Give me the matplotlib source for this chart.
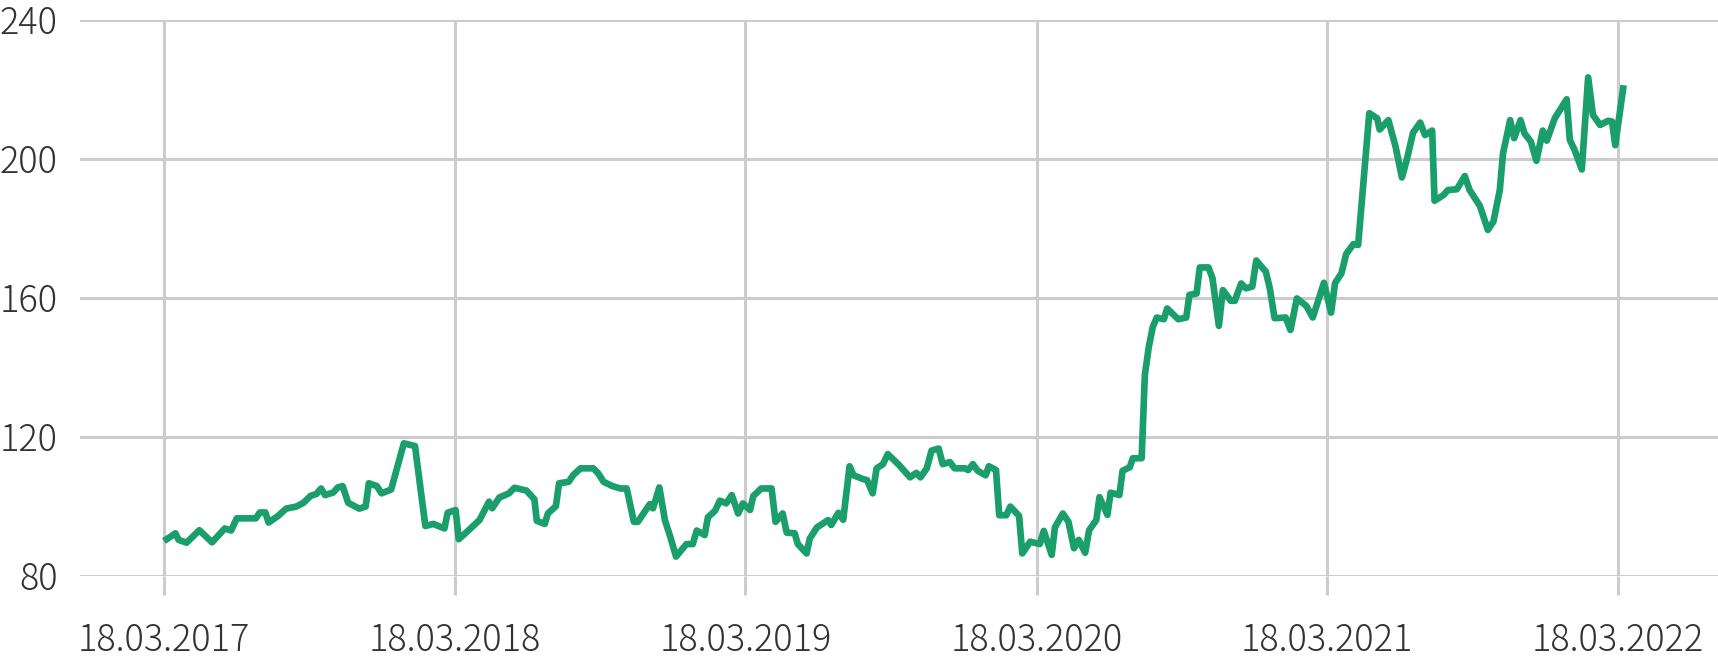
import pandas as pd
import matplotlib
matplotlib.use("Agg")
import matplotlib.pyplot as plt
import matplotlib.dates as mdates
from matplotlib import font_manager

dates = [
    "2017-03-21", "2017-04-01", "2017-04-05", "2017-04-15", "2017-05-01", "2017-05-17",
    "2017-06-02", "2017-06-10", "2017-06-17", "2017-07-11", "2017-07-16", "2017-07-23",
    "2017-07-27", "2017-08-08", "2017-08-18", "2017-08-31", "2017-09-09", "2017-09-18",
    "2017-09-25", "2017-10-01", "2017-10-06", "2017-10-16", "2017-10-22", "2017-10-28",
    "2017-11-04", "2017-11-18", "2017-11-26", "2017-11-30", "2017-12-10", "2017-12-16",
    "2017-12-28", "2018-01-13", "2018-01-27", "2018-02-09", "2018-02-19", "2018-03-05",
    "2018-03-09", "2018-03-19", "2018-03-23", "2018-04-04", "2018-04-18", "2018-04-30",
    "2018-05-04", "2018-05-13", "2018-05-25", "2018-06-01", "2018-06-16", "2018-06-26",
    "2018-06-29", "2018-07-09", "2018-07-13", "2018-07-23", "2018-07-27", "2018-08-08",
    "2018-08-14", "2018-08-23", "2018-09-08", "2018-09-14", "2018-09-21", "2018-10-02",
    "2018-10-12", "2018-10-20", "2018-10-29", "2018-11-03", "2018-11-18", "2018-11-22",
    "2018-11-30", "2018-12-07", "2018-12-14", "2018-12-21", "2019-01-03", "2019-01-11",
    "2019-01-16", "2019-01-26", "2019-01-30", "2019-02-08", "2019-02-14", "2019-02-22",
    "2019-03-01", "2019-03-09", "2019-03-15", "2019-03-24", "2019-03-28", "2019-04-07",
    "2019-04-20", "2019-04-25", "2019-05-04", "2019-05-09", "2019-05-19", "2019-05-23",
    "2019-06-03", "2019-06-07", "2019-06-16", "2019-06-30", "2019-07-04", "2019-07-13",
    "2019-07-19", "2019-07-27", "2019-08-01", "2019-08-13", "2019-08-18", "2019-08-25",
    "2019-08-30", "2019-09-07", "2019-09-13", "2019-09-27", "2019-10-11", "2019-10-19",
    "2019-10-24", "2019-11-01", "2019-11-07", "2019-11-16", "2019-11-21", "2019-11-30",
    "2019-12-06", "2019-12-19", "2019-12-23", "2019-12-29", "2020-01-04", "2020-01-14",
    "2020-01-18", "2020-01-27", "2020-01-31", "2020-02-09", "2020-02-14", "2020-02-25",
    "2020-02-29", "2020-03-10", "2020-03-22", "2020-03-27", "2020-04-06", "2020-04-10",
    "2020-04-20", "2020-04-27", "2020-05-04", "2020-05-10", "2020-05-18", "2020-05-23",
    "2020-06-01", "2020-06-05", "2020-06-15", "2020-06-19", "2020-06-30", "2020-07-04",
    "2020-07-13", "2020-07-17", "2020-07-28", "2020-08-01", "2020-08-06", "2020-08-11",
    "2020-08-16", "2020-08-25", "2020-08-29", "2020-09-12", "2020-09-22", "2020-09-26",
    "2020-10-05", "2020-10-09", "2020-10-20", "2020-10-25", "2020-11-02", "2020-11-07",
    "2020-11-17", "2020-11-22", "2020-11-30", "2020-12-06", "2020-12-14", "2020-12-19",
    "2020-12-31", "2021-01-05", "2021-01-11", "2021-01-25", "2021-01-31", "2021-02-08",
    "2021-02-20", "2021-02-28", "2021-03-14", "2021-03-23", "2021-03-28", "2021-04-05",
    "2021-04-11", "2021-04-20", "2021-04-26", "2021-05-10", "2021-05-20", "2021-05-23",
    "2021-06-03", "2021-06-12", "2021-06-20", "2021-06-26", "2021-07-04", "2021-07-13",
    "2021-07-19", "2021-07-28", "2021-07-31", "2021-08-11", "2021-08-17", "2021-08-28",
    "2021-09-07", "2021-09-13", "2021-09-26", "2021-10-06", "2021-10-13", "2021-10-21",
    "2021-10-25", "2021-11-03", "2021-11-08", "2021-11-16", "2021-11-21", "2021-11-29",
    "2021-12-06", "2021-12-14", "2021-12-19", "2021-12-29", "2022-01-13", "2022-01-17",
    "2022-01-23", "2022-02-01", "2022-02-09", "2022-02-15", "2022-02-24", "2022-03-06",
    "2022-03-11", "2022-03-15", "2022-03-25",
]

prices = [
    90.5, 92.2, 90.3, 89.5, 93.1, 89.6,
    93.6, 93.0, 96.5, 96.5, 98.2, 98.2,
    95.3, 97.2, 99.3, 99.9, 101.0, 103.0,
    103.5, 105.1, 103.2, 103.9, 105.4, 105.8,
    101.0, 99.3, 99.9, 106.6, 105.8, 103.7,
    104.8, 118.1, 117.3, 94.3, 94.9, 93.6,
    98.1, 98.9, 90.5, 93.0, 96.0, 101.3,
    99.4, 102.5, 103.7, 105.3, 104.5, 102.0,
    95.8, 94.9, 97.9, 100.0, 106.6, 107.0,
    109.0, 110.9, 110.9, 109.5, 107.0, 105.8,
    105.1, 105.1, 95.5, 95.5, 100.6, 99.4,
    105.4, 96.0, 91.0, 85.5, 89.1, 89.1,
    93.0, 91.7, 96.8, 98.7, 101.6, 100.8,
    103.2, 97.9, 100.8, 98.9, 102.9, 105.1,
    105.1, 95.5, 97.9, 92.4, 92.2, 89.1,
    86.4, 90.7, 93.9, 96.0, 94.6, 98.1,
    96.1, 111.5, 108.9, 107.8, 107.5, 103.7,
    110.9, 112.1, 115.0, 111.9, 108.3, 109.6,
    108.3, 110.9, 116.0, 116.6, 112.1, 112.7,
    110.9, 110.9, 110.4, 112.1, 110.2, 108.9,
    111.5, 110.4, 97.4, 97.4, 99.9, 97.2,
    86.4, 89.8, 89.1, 92.9, 86.0, 93.9,
    97.9, 95.5, 87.9, 90.3, 86.6, 93.1,
    96.0, 102.6, 97.5, 103.9, 103.2, 110.2,
    111.2, 113.8, 113.8, 137.7, 145.9, 151.6,
    154.3, 153.8, 156.9, 153.8, 154.3, 160.8,
    161.2, 168.7, 168.7, 165.6, 151.9, 162.2,
    159.1, 159.1, 164.1, 162.7, 163.2, 170.7,
    167.5, 162.7, 154.1, 154.3, 150.7, 159.8,
    157.6, 154.3, 164.3, 155.7, 164.2, 167.0,
    172.6, 175.4, 175.2, 213.1, 211.6, 208.4,
    211.1, 203.5, 194.6, 199.6, 207.5, 210.4,
    206.8, 208.1, 187.9, 189.5, 191.0, 191.2,
    195.0, 191.0, 186.4, 179.5, 181.9, 191.0,
    201.5, 211.1, 205.9, 211.1, 207.3, 204.9,
    199.4, 208.1, 205.2, 211.6, 217.1, 205.4,
    202.5, 196.9, 223.4, 212.6, 209.7, 210.9,
    210.7, 203.9, 220.2,
]

tick_dates = ["2017-03-18", "2018-03-18", "2019-03-18",
              "2020-03-18", "2021-03-18", "2022-03-18"]
y_ticks = [80, 120, 160, 200, 240]

x = pd.to_datetime(dates)
ticks = pd.to_datetime(tick_dates)

# look for a light face, the reference labels are thin
light_font = None
for fam in ["Noto Sans CJK SC", "Noto Sans CJK JP", "Lato", "Roboto", "Open Sans", "Inter"]:
    for f in font_manager.fontManager.ttflist:
        if f.name == fam and isinstance(f.weight, int) and f.weight <= 300 and f.style == "normal":
            light_font = f
            break
    if light_font:
        break

if light_font is not None:
    label_font = font_manager.FontProperties(fname=light_font.fname, size=26)
else:
    label_font = font_manager.FontProperties(family=["Noto Sans CJK SC", "DejaVu Sans"], size=26)

W, H = 1718, 658
fig = plt.figure(figsize=(W / 100, H / 100), dpi=100)
left, right, top, bottom = 80, W, 19.7, 575.7
ax = fig.add_axes([left / W, 1 - bottom / H, (right - left) / W, (bottom - top) / H])

grid_color = "#cccccc"
ax.plot(x, prices, color="#1a9e6b", lw=4.8, solid_joinstyle="round", zorder=3)

ax.set_ylim(80, 240)
ax.set_yticks(y_ticks)
px_day = 290.7 / 365.25
ax.set_xlim(ticks[0] - pd.Timedelta(days=(164.3 - left) / px_day),
            ticks[0] + pd.Timedelta(days=(right - 164.3) / px_day))
ax.set_xticks(ticks)
ax.xaxis.set_major_formatter(mdates.DateFormatter("%d.%m.%Y"))

ax.grid(True, color=grid_color, lw=2.2)
ax.set_axisbelow(True)
for s in ax.spines.values():
    s.set_visible(False)

ax.tick_params(axis="y", length=0, pad=16, labelcolor="#333333")
ax.tick_params(axis="x", length=13.7, width=2.2, color=grid_color, pad=19,
               labelcolor="#333333")
for lab in ax.get_xticklabels() + ax.get_yticklabels():
    lab.set_fontproperties(label_font)

fig.savefig("out.png", dpi=100)
